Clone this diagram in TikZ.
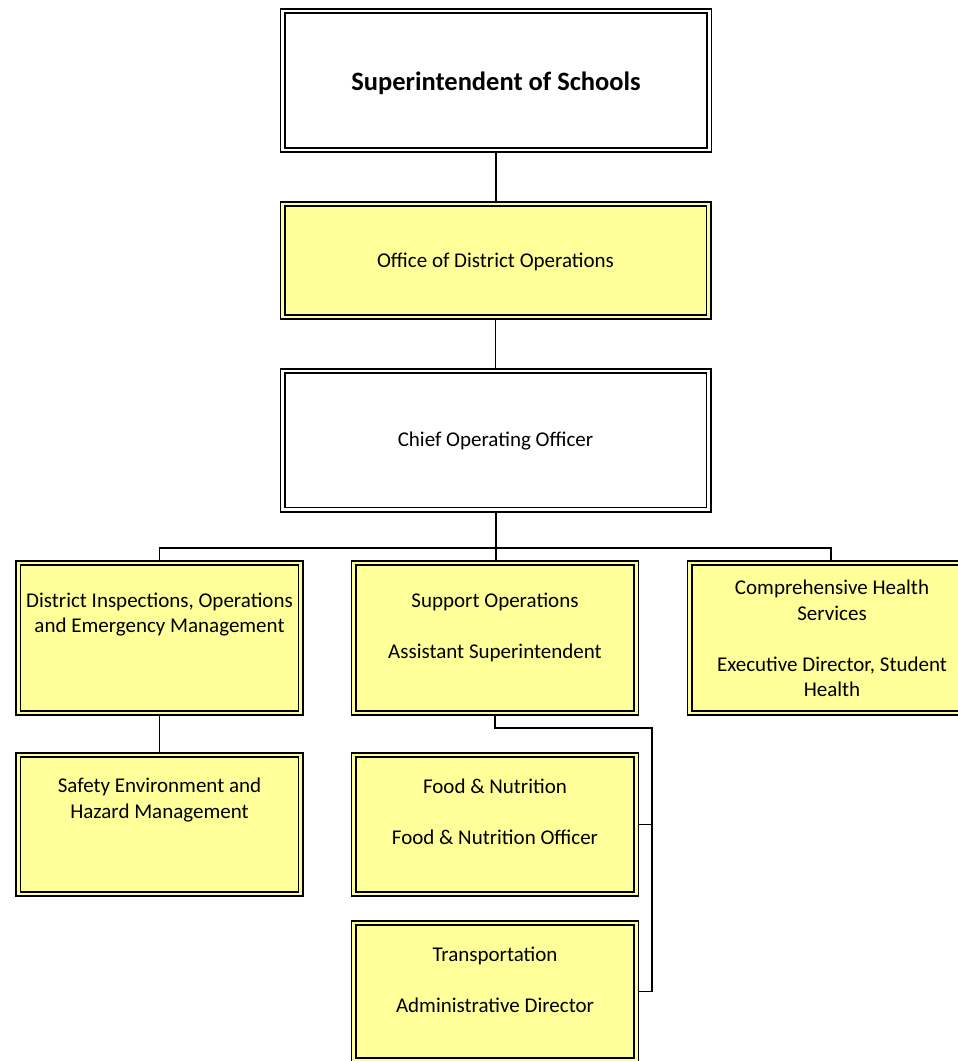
\documentclass[tikz,border=0pt]{standalone}
\usepackage{fontspec}
\setmainfont{Carlito}
\definecolor{yfill}{HTML}{FFFF99}
\begin{document}
\begin{tikzpicture}[x=1pt,y=-1pt,
  orgbox/.style={draw=black, line width=1.7pt, double distance=2.6pt,
    inner sep=0pt, outer sep=3pt},
  ybox/.style={orgbox, fill=yfill, double=yfill},
  wbox/.style={orgbox, fill=white, double=white},
  unitbox/.style={ybox, minimum width=282.5pt},
  lbl/.style={font=\fontsize{21}{25.5}\selectfont, align=center,
    anchor=base, inner sep=0pt},
  link/.style={draw=black, line width=1.5pt}]

\useasboundingbox (0,0) rectangle (958,1061);
\clip (0,0) rectangle (958,1061);

% top of the hierarchy
\node[wbox, minimum width=426.5pt, minimum height=139pt] (sup) at (496,80.5) {};
\node[ybox, minimum width=426pt, minimum height=113pt] (ops) at (495.5,260.5) {};
\node[wbox, minimum width=426pt, minimum height=138.5pt] (coo) at (495.5,440.3) {};

% departments
\node[unitbox, minimum height=150pt] (dio) at (159.5,638) {};
\node[unitbox, minimum height=150pt] (sos) at (495,638) {};
\node[unitbox, minimum height=150pt] (chs) at (831,638) {};

% sub-units
\node[unitbox, minimum height=139pt] (seh) at (159.5,824.5) {};
\node[unitbox, minimum height=139pt] (fno) at (495,824.5) {};
\node[unitbox, minimum height=137pt] (trn) at (495,991.5) {};

% labels (anchored on the baseline of the last line)
\node[lbl, font=\fontsize{26.5}{32}\selectfont\bfseries] (tsup) at (496,90) {Superintendent of Schools};
\node[lbl] (tops) at (495.5,267.5) {Office of District Operations};
\node[lbl] (tcoo) at (495.5,446.5) {Chief Operating Officer};
\node[lbl] (tdio) at (159.5,632.5) {District Inspections, Operations\\and Emergency Management};
\node[lbl] (tsos) at (495,658.5) {Support Operations\\[25.5pt]Assistant Superintendent};
\node[lbl] (tchs) at (832,696.5) {Comprehensive Health\\Services\\[25.5pt]Executive Director, Student\\Health};
\node[lbl] (tseh) at (159.5,818) {Safety Environment and\\Hazard Management};
\node[lbl] (tfno) at (495,844) {Food \& Nutrition\\[25.5pt]Food \& Nutrition Officer};
\node[lbl] (ttrn) at (495,1012) {Transportation\\[25.5pt]Administrative Director};

% connectors
\coordinate (bus) at (496,548);
\coordinate (spine) at (652,728);
\draw[link] (sup.south) -- (sup.south |- ops.north);
\draw[link] (ops.south) -- (ops.south |- coo.north);
\draw[link, line width=2pt] (coo.south -| bus) -- (bus);
\draw[link] (bus) -| (dio.north);
\draw[link] (bus) -| (chs.north);
\draw[link] (bus) -- (bus |- sos.north);
\draw[link] (dio.south) -- (seh.north);
\draw[link] (sos.south) -- (sos.south |- spine) -- (spine) |- (trn.east);
\draw[link] (spine |- fno.east) -- (fno.east);
\end{tikzpicture}
\end{document}
